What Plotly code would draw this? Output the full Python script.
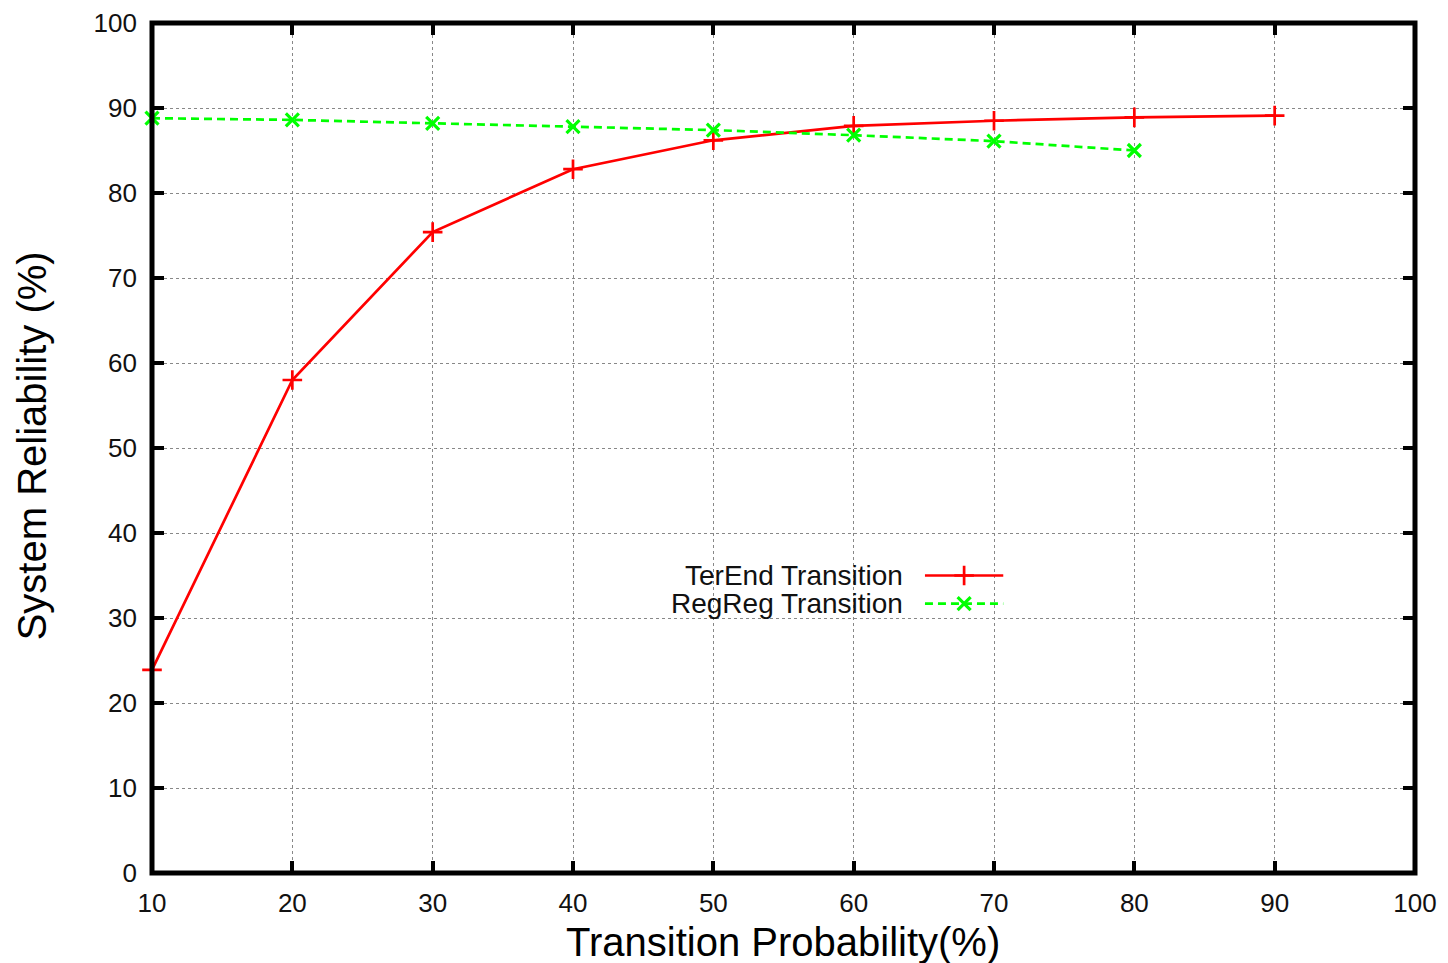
import plotly.graph_objects as go

# Transition probability (%) on the x axis
x_terend = [10, 20, 30, 40, 50, 60, 70, 80, 90]
y_terend = [23.9, 58.0, 75.4, 82.8, 86.2, 87.9, 88.5, 88.9, 89.1]

x_regreg = [10, 20, 30, 40, 50, 60, 70, 80]
y_regreg = [88.8, 88.6, 88.2, 87.8, 87.4, 86.8, 86.1, 85.0]

series_names = ["TerEnd Transition", "RegReg Transition"]
x_ticks = [10, 20, 30, 40, 50, 60, 70, 80, 90, 100]
y_ticks = [0, 10, 20, 30, 40, 50, 60, 70, 80, 90, 100]

RED = "#ff0000"
GREEN = "#00ff00"
FONT = "Liberation Sans"

W, H = 1448, 963
ML, MR, MT, MB = 152, 33, 23, 90

red_line = dict(color=RED, width=2.7)
red_marker = dict(symbol="cross-thin", size=14, line=dict(color=RED, width=2.7))
green_line = dict(color=GREEN, width=2.7, dash="8px,5px")
green_marker = dict(symbol="x-thin", size=13, line=dict(color=GREEN, width=3.2))

fig = go.Figure()

fig.add_trace(go.Scatter(
    x=x_terend, y=y_terend, mode="lines+markers", name=series_names[0],
    line=red_line, marker=red_marker, showlegend=False, cliponaxis=False,
))
fig.add_trace(go.Scatter(
    x=x_regreg, y=y_regreg, mode="lines+markers", name=series_names[1],
    line=green_line, marker=green_marker, showlegend=False, cliponaxis=False,
))

# Gnuplot-style key: label text on the left, line sample on the right,
# drawn on an overlay axis spanning the plot area in [0, 1] units.
key_x0, key_x1 = 0.612, 0.674
key_rows = [0.35, 0.317]
key_text_x = 0.596
styles = [(red_line, red_marker), (green_line, green_marker)]
for name, ky, (ln, mk) in zip(series_names, key_rows, styles):
    fig.add_trace(go.Scatter(
        x=[key_x0, (key_x0 + key_x1) / 2, key_x1], y=[ky, ky, ky],
        mode="lines", line=ln, xaxis="x2", yaxis="y2", showlegend=False, hoverinfo="skip",
    ))
    fig.add_trace(go.Scatter(
        x=[(key_x0 + key_x1) / 2], y=[ky], mode="markers", marker=mk,
        xaxis="x2", yaxis="y2", showlegend=False, hoverinfo="skip",
    ))
    fig.add_annotation(
        x=key_text_x, y=ky, xref="paper", yref="paper", text=name,
        xanchor="right", yanchor="middle", showarrow=False,
        font=dict(family=FONT, size=28, color="#111111"),
    )

axis_common = dict(
    showline=False, mirror="allticks", automargin=False,
    ticks="inside", ticklen=12, tickwidth=4, tickcolor="black",
    showgrid=True, gridcolor="#888888", gridwidth=1, griddash="dot",
    zeroline=False, tickfont=dict(family=FONT, size=26, color="#111111"),
)

fig.update_layout(
    width=W, height=H,
    margin=dict(l=ML, r=MR, t=MT, b=MB),
    paper_bgcolor="white", plot_bgcolor="white",
    xaxis=dict(range=[10, 100], tickvals=x_ticks, ticklabelstandoff=12, **axis_common),
    yaxis=dict(range=[0, 100], tickvals=y_ticks, ticklabelstandoff=14, **axis_common),
    xaxis2=dict(range=[0, 1], overlaying="x", visible=False, fixedrange=True),
    yaxis2=dict(range=[0, 1], overlaying="y", visible=False, fixedrange=True),
    showlegend=False,
)

# Heavy frame centred on the plot-area border
fig.add_shape(type="rect", xref="paper", yref="paper", x0=0, x1=1, y0=0, y1=1,
              line=dict(color="black", width=5), layer="above")

fig.add_annotation(
    x=0.4996, y=-0.081, xref="paper", yref="paper", text="Transition Probability(%)",
    xanchor="center", yanchor="middle", showarrow=False,
    font=dict(family=FONT, size=40, color="black"),
)
fig.add_annotation(
    x=-0.095, y=0.502, xref="paper", yref="paper", text="System Reliability (%)",
    xanchor="center", yanchor="middle", showarrow=False, textangle=-90,
    font=dict(family=FONT, size=40, color="black"),
)

fig.write_html("out.html")
